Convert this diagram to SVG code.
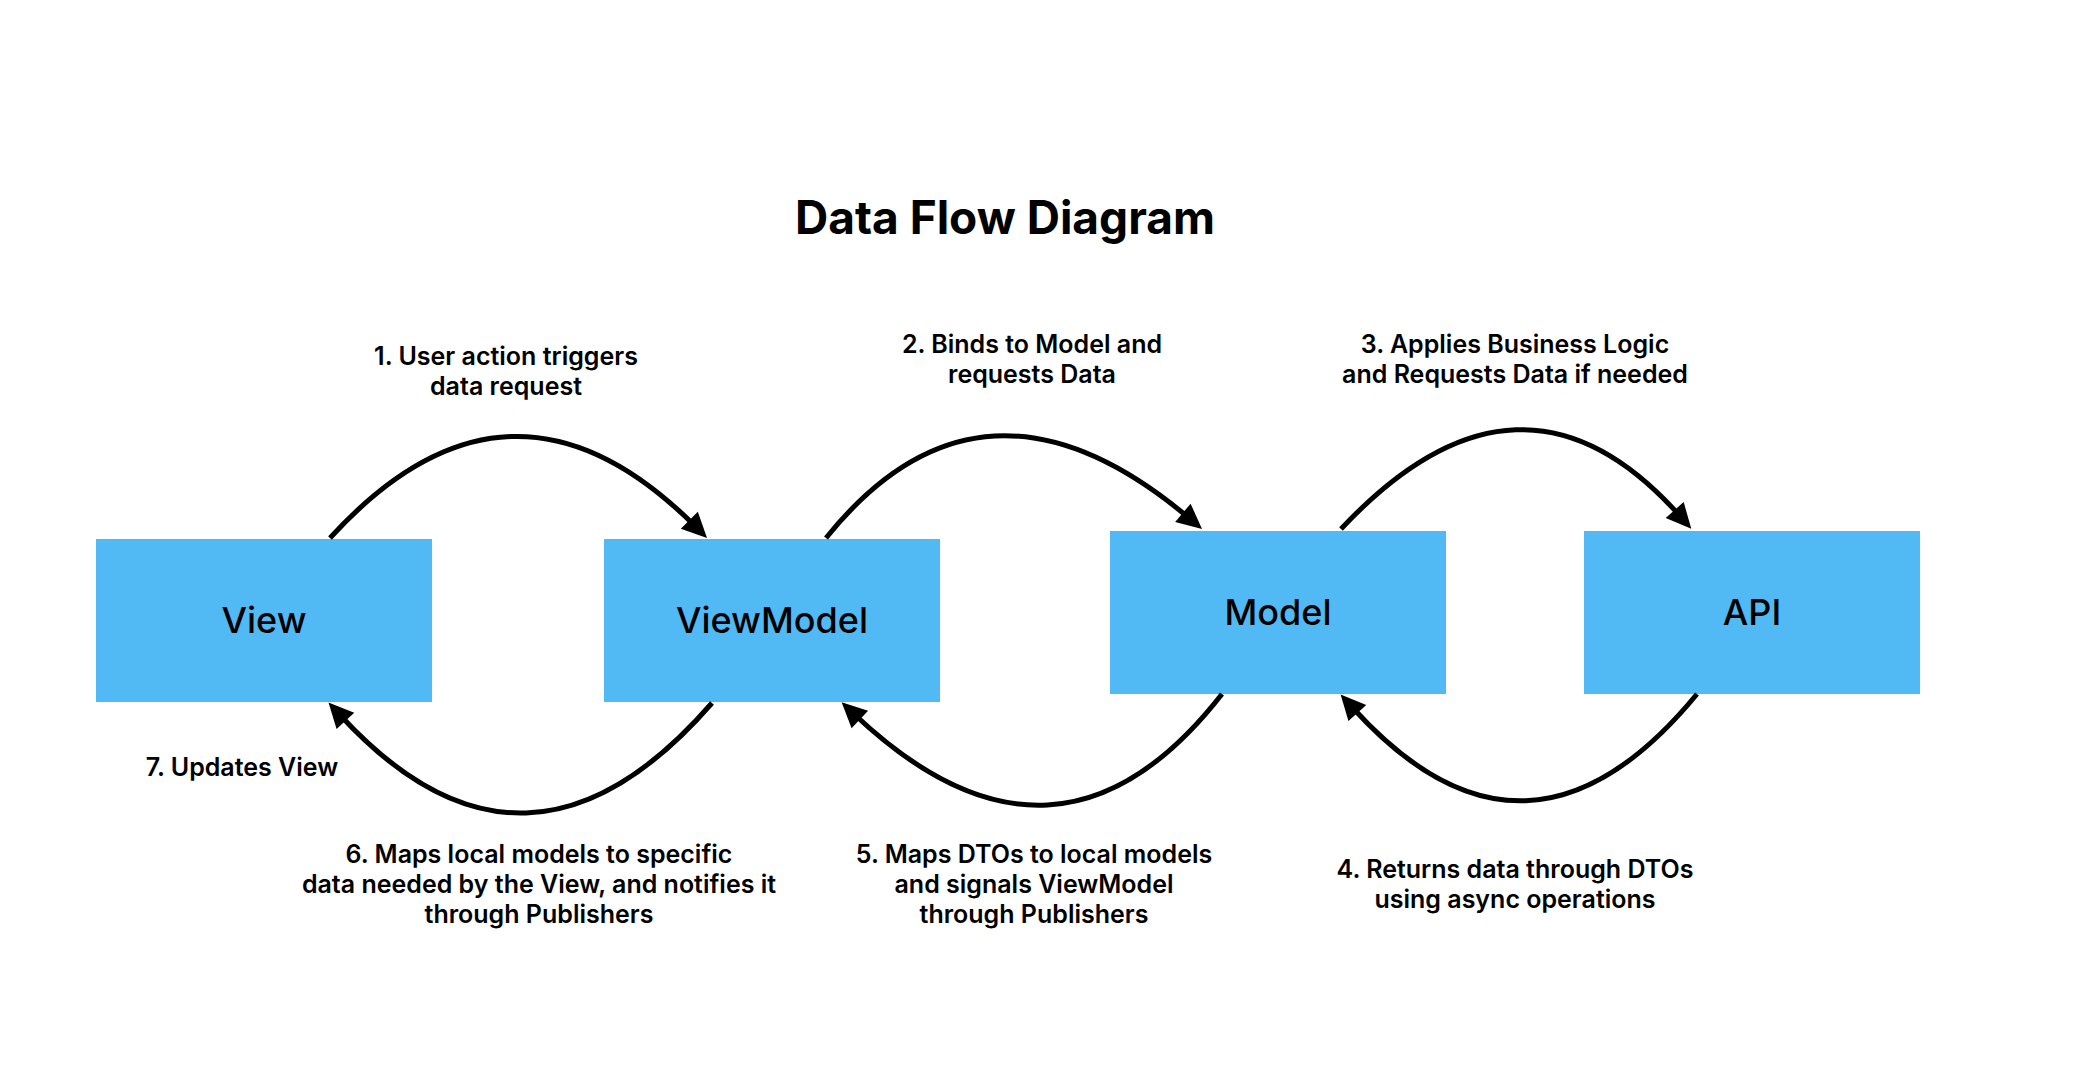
<svg xmlns="http://www.w3.org/2000/svg" width="2074" height="1084" viewBox="0 0 2074 1084">
  <style>
    text { font-family: Inter, "Noto Sans", "Liberation Sans", sans-serif; fill: #000; text-anchor: middle; }
    .title { font-size: 46px; font-weight: 700; }
    .node rect { fill: #51BAF4; }
    .node text { font-size: 36px; font-weight: 500; }
    .lbl { font-size: 25px; font-weight: 600; }
    .arc { fill: none; stroke: #000; stroke-width: 5; marker-end: url(#arrow); }
  </style>
  <defs>
    <marker id="arrow" markerUnits="userSpaceOnUse" markerWidth="26" markerHeight="24" refX="8" refY="12" orient="auto" overflow="visible">
      <path d="M0,0 L25,12 L0,24 Z" fill="#000"/>
    </marker>
  </defs>
  <rect width="2074" height="1084" fill="#fff"/>
  <text class="title" x="1005" y="234">Data Flow Diagram</text>

  <g id="node-view" class="node">
    <rect x="96" y="539" width="336" height="163"/>
    <text x="264" y="633">View</text>
  </g>
  <g id="node-viewmodel" class="node">
    <rect x="604" y="539" width="336" height="163"/>
    <text x="772" y="633">ViewModel</text>
  </g>
  <g id="node-model" class="node">
    <rect x="1110" y="531" width="336" height="163"/>
    <text x="1278" y="625">Model</text>
  </g>
  <g id="node-api" class="node">
    <rect x="1584" y="531" width="336" height="163"/>
    <text x="1752" y="625">API</text>
  </g>

  <g id="connectors">
    <path class="arc" d="M330,538 Q510,341 695,526"/>
    <path class="arc" d="M826,538 Q982,344 1189,518"/>
    <path class="arc" d="M1341,529 Q1521,337 1680,516"/>
    <path class="arc" d="M1697,694 Q1527,901 1352,707"/>
    <path class="arc" d="M1222,694 Q1057,906 854,714"/>
    <path class="arc" d="M712,703 Q526,917 340,715"/>
  </g>

  <g id="labels">
    <text class="lbl" x="506" y="365">1. User action triggers</text>
    <text class="lbl" x="506" y="395">data request</text>
    <text class="lbl" x="1032" y="353">2. Binds to Model and</text>
    <text class="lbl" x="1032" y="383">requests Data</text>
    <text class="lbl" x="1515" y="353">3. Applies Business Logic</text>
    <text class="lbl" x="1515" y="383">and Requests Data if needed</text>
    <text class="lbl" x="1515" y="878">4. Returns data through DTOs</text>
    <text class="lbl" x="1515" y="908">using async operations</text>
    <text class="lbl" x="1034" y="863">5. Maps DTOs to local models</text>
    <text class="lbl" x="1034" y="893">and signals ViewModel</text>
    <text class="lbl" x="1034" y="923">through Publishers</text>
    <text class="lbl" x="539" y="863">6. Maps local models to specific</text>
    <text class="lbl" x="539" y="893">data needed by the View, and notifies it</text>
    <text class="lbl" x="539" y="923">through Publishers</text>
    <text class="lbl" x="242" y="776">7. Updates View</text>
  </g>
</svg>
